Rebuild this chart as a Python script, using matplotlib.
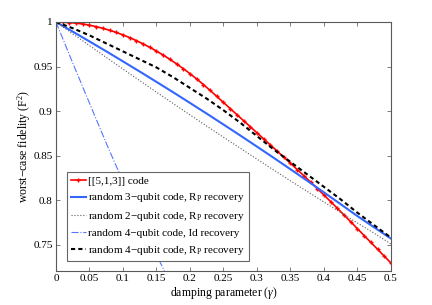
import numpy as np
import matplotlib
matplotlib.use("Agg")
import matplotlib.pyplot as plt

plt.rcParams['font.family'] = ['Liberation Serif', 'DejaVu Serif']
plt.rcParams['mathtext.fontset'] = 'custom'
plt.rcParams['mathtext.rm'] = 'Liberation Serif'
plt.rcParams['mathtext.it'] = 'Liberation Serif:italic'

# damping parameter grids
gamma_fine = np.arange(51) * 0.01
gamma = np.arange(21) * 0.025
gamma_id = np.arange(8) * 0.025

# [[5,1,3]] code
f_513 = [1.0000, 0.9999, 0.9994, 0.9987, 0.9977, 0.9964, 0.9948, 0.9929, 0.9907, 0.9883,
         0.9855, 0.9825, 0.9791, 0.9755, 0.9716, 0.9674, 0.9629, 0.9581, 0.9530, 0.9477,
         0.9420, 0.9361, 0.9298, 0.9233, 0.9165, 0.9097, 0.9029, 0.8961, 0.8893, 0.8825,
         0.8757, 0.8689, 0.8621, 0.8553, 0.8484, 0.8415, 0.8345, 0.8275, 0.8204, 0.8132,
         0.8059, 0.7985, 0.7910, 0.7834, 0.7758, 0.7681, 0.7604, 0.7527, 0.7450, 0.7373,
         0.7296]

# random 3-qubit code, Rp recovery
f_3q = [1.0, 0.9892, 0.9782, 0.9671, 0.9558, 0.9444, 0.9328, 0.9211, 0.9092, 0.8972,
        0.8850, 0.8727, 0.8602, 0.8476, 0.8348, 0.8219, 0.8088, 0.7956, 0.7822, 0.7696,
        0.7570]

# random 2-qubit code, Rp recovery
f_2q = [1.0, 0.9867, 0.9735, 0.9603, 0.9472, 0.9342, 0.9213, 0.9085, 0.8958, 0.8832,
        0.8707, 0.8584, 0.8461, 0.8339, 0.8218, 0.8099, 0.7980, 0.7862, 0.7745, 0.7630,
        0.7510]

# random 4-qubit code, Id recovery
f_4q_id = [1.0, 0.954, 0.909, 0.864, 0.821, 0.779, 0.739, 0.700]

# random 4-qubit code, Rp recovery
f_4q = [1.0, 0.993, 0.985, 0.976, 0.967, 0.958, 0.949, 0.938, 0.926, 0.914,
        0.901, 0.887, 0.872, 0.857, 0.843, 0.829, 0.815, 0.801, 0.786, 0.772,
        0.758]

fig = plt.figure(figsize=(4.32, 3.05), dpi=100)
ax = fig.add_axes([0.1296, 0.1125, 0.7754, 0.8154])

ax.plot(gamma_fine, f_513, '-', color='red', lw=1.2, marker='+', ms=3.5, mew=1.0,
        label='[[5,1,3]] code')
ax.plot(gamma, f_3q, '-', color='#3366ff', lw=1.5,
        label='random 3\u2212qubit code, R$_\\mathrm{P}$ recovery')
ax.plot(gamma, f_2q, ':', color='0.35', lw=0.8,
        label='random 2\u2212qubit code, R$_\\mathrm{P}$ recovery')
ax.plot(gamma_id, f_4q_id, '-.', color='#5577ff', lw=0.8,
        label='random 4\u2212qubit code, Id recovery')
ax.plot(gamma, f_4q, '--', color='black', lw=1.5, dashes=(2, 1.5),
        label='random 4\u2212qubit code, R$_\\mathrm{P}$ recovery')

ax.set_xlim(0, 0.5)
ax.set_ylim(0.721, 1.0)
xt = np.arange(11) * 0.05
ax.set_xticks(xt)
ax.set_xticklabels(['0', '0.05', '0.1', '0.15', '0.2', '0.25', '0.3', '0.35', '0.4', '0.45', '0.5'])
ax.set_yticks([0.75, 0.8, 0.85, 0.9, 0.95, 1.0])
ax.set_yticklabels(['0.75', '0.8', '0.85', '0.9', '0.95', '1'])
ax.tick_params(direction='in', top=True, right=True, labelsize=8, length=3,
               width=0.6, color='0.4', pad=2.5)
for s in ax.spines.values():
    s.set_linewidth(0.8)
    s.set_color('0.35')

ax.set_xlabel('damping parameter ($\\gamma$)', fontsize=8.5)
ax.set_ylabel('worst\u2212case fidelity (F$^2$)', fontsize=8.5)
ax.xaxis.set_label_coords(0.5, -0.058)
ax.yaxis.set_label_coords(-0.07, 0.5)

leg = ax.legend(loc='lower left', bbox_to_anchor=(0.032, 0.04), borderaxespad=0,
                fontsize=8, fancybox=False, framealpha=1, edgecolor='0.4',
                handlelength=1.4, handletextpad=0.2, labelspacing=0.5,
                borderpad=0.35)
leg.get_frame().set_linewidth(0.8)

fig.savefig('out.png', dpi=100)
